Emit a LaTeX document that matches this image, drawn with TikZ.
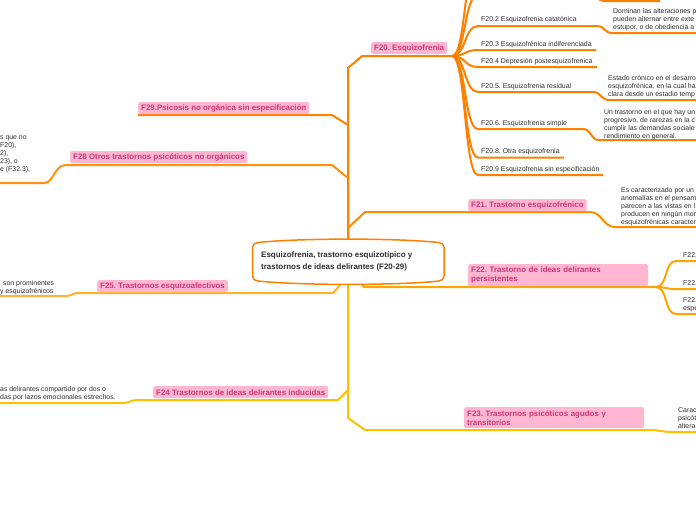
\documentclass[tikz,border=0pt]{standalone}
\usepackage{fontspec}
\setmainfont{Liberation Sans}
\frenchspacing
\definecolor{cA}{RGB}{255,128,0}
\definecolor{cB}{RGB}{255,140,0}
\definecolor{cC}{RGB}{255,165,0}
\definecolor{cD}{RGB}{255,192,0}
\definecolor{cE}{RGB}{255,178,45}
\definecolor{cF}{RGB}{255,145,15}
\definecolor{pinkfill}{RGB}{255,182,208}
\definecolor{pinktext}{RGB}{204,55,120}
\definecolor{txt}{RGB}{45,45,45}
\tikzset{
  br/.style={line width=2pt, line join=round},
  lbl/.style={fill=pinkfill, rounded corners=1.5pt, text=pinktext,
    font=\fontsize{7.9}{9}\selectfont\bfseries, inner xsep=3pt, inner ysep=0pt,
    minimum height=12pt, anchor=north west, align=left},
  subitem/.style={font=\fontsize{6.95}{8}\selectfont, text=txt, anchor=base west, inner sep=0pt},
  desc/.style={font=\fontsize{6.9}{8}\selectfont, text=txt, anchor=north west, align=left, inner sep=0pt},
}
\begin{document}
\begin{tikzpicture}[x=1pt,y=-1pt]
\useasboundingbox (0,0) rectangle (696,520);
\clip (0,0) rectangle (696,520);

% central node
\node[minimum width=192pt, minimum height=44pt, inner sep=0pt] (root) at (348.3,261.5) {};
\coordinate (rt) at (348,240);
\coordinate (rb) at (348,283);

% ---------- upper branches ----------
% F29
\coordinate (j29a) at (348,125); \coordinate (j29b) at (332,115); \coordinate (e29) at (138,115);
\draw[br, cA] (rt) -- (j29a) -- (j29b) -- (e29);
\node[lbl] (f29) at (138,102) {F29.Psicosis no orgánica sin especificación};

% F28
\coordinate (j28a) at (348,178); \coordinate (j28b) at (332,165); \coordinate (j28c) at (66,165);
\coordinate (j28d) at (44,183); \coordinate (e28) at (-5,183);
\draw[br, cF] (rt) -- (j28a) -- (j28b) -- (j28c) .. controls +(-12,0) and +(10,0) .. (j28d) -- (e28);
\node[lbl] (f28) at (70,151) {F28 Otros trastornos psicóticos no orgánicos};
\node[desc] (d28) at (0,135.5) {s que no\\F20),\\2),\\23), o\\e (F32.3),};

% F21
\coordinate (j21a) at (348,228); \coordinate (j21b) at (365,212); \coordinate (j21c) at (590,212);
\coordinate (j21d) at (615,227); \coordinate (e21) at (700,227);
\draw[br, cB] (rt) -- (j21a) -- (j21b) -- (j21c) .. controls +(12,0) and +(-12,0) .. (j21d) -- (e21);
\node[lbl] (f21) at (468,199) {F21. Trastorno esquizofrénico};
\node[desc] (d21) at (621,187) {Es caracterizado por un\\anomalías en el pensam\\parecen a las vistas en l\\producen en ningún mom\\esquizofrénicas caracter};

% F20
\coordinate (j20a) at (348,68); \coordinate (j20b) at (362,56); \coordinate (r20) at (452,56);
\draw[br, cA] (rt) -- (j20a) -- (j20b) -- (r20);
\node[lbl] (f20) at (371,42) {F20. Esquizofrenia};

% F20 children
\coordinate (s200) at (478,-40); \coordinate (e200) at (600,-40);
\draw[br, cA] (r20) .. controls +(14,0) and +(-14,0) .. (s200) -- (e200);
\coordinate (s201) at (478,-5); \coordinate (m201) at (590,-5); \coordinate (n201) at (605,1); \coordinate (e201) at (660,1);
\draw[br, cA] (r20) .. controls +(14,0) and +(-14,0) .. (s201) -- (m201) .. controls +(8,0) and +(-8,0) .. (n201) -- (e201);

\coordinate (s202) at (478,26); \coordinate (m202) at (597,26); \coordinate (n202) at (612,33); \coordinate (e202) at (700,33);
\draw[br, cA] (r20) .. controls +(14,0) and +(-14,0) .. (s202) -- (m202) .. controls +(8,0) and +(-8,0) .. (n202) -- (e202);
\node[subitem] (t202) at (481,21) {F20.2 Esquizofrenia catatónica};
\node[desc] (d202) at (613,8) {Dominan las alteraciones p\\pueden alternar entre exte\\estupor, o de obediencia a};

\coordinate (s203) at (478,50); \coordinate (e203) at (596,50);
\draw[br, cA] (r20) .. controls +(14,0) and +(-14,0) .. (s203) -- (e203);
\node[subitem] (t203) at (481,46) {F20.3 Esquizofrénica indiferenciada};

\coordinate (s204) at (478,67); \coordinate (e204) at (597,67);
\draw[br, cA] (r20) .. controls +(14,0) and +(-14,0) .. (s204) -- (e204);
\node[subitem] (t204) at (481,63.5) {F20.4 Depresión postesquizofrenica};

\coordinate (s205) at (478,92); \coordinate (m205) at (593,92); \coordinate (n205) at (609,100); \coordinate (e205) at (700,100);
\draw[br, cA] (r20) .. controls +(14,0) and +(-14,0) .. (s205) -- (m205) .. controls +(8,0) and +(-8,0) .. (n205) -- (e205);
\node[subitem] (t205) at (481,88) {F20.5. Esquizofrenia residual};
\node[desc] (d205) at (608,75) {Estado crónico en el desarro\\esquizofrénica, en la cual ha\\clara desde un estadio temp};

\coordinate (s206) at (478,129); \coordinate (m206) at (583,129); \coordinate (n206) at (599,140); \coordinate (e206) at (700,140);
\draw[br, cA] (r20) .. controls +(14,0) and +(-14,0) .. (s206) -- (m206) .. controls +(9,0) and +(-9,0) .. (n206) -- (e206);
\node[subitem] (t206) at (481,125) {F20.6. Esquizofrenia simple};
\node[desc] (d206) at (604,109) {Un trastorno en el que hay un\\progresivo, de rarezas en la c\\cumplir las demandas sociale\\rendimiento en general.};

\coordinate (s208) at (478,157.5); \coordinate (e208) at (564,157.5);
\draw[br, cA] (r20) .. controls +(14,0) and +(-14,0) .. (s208) -- (e208);
\node[subitem] (t208) at (481,153.5) {F20.8. Otra esquizofrenia};

\coordinate (s209) at (478,175); \coordinate (e209) at (603,175);
\draw[br, cA] (r20) .. controls +(14,0) and +(-14,0) .. (s209) -- (e209);
\node[subitem] (t209) at (481,171) {F20.9 Esquizofrenia sin especificación};

% ---------- lower branches ----------
% F23
\coordinate (j23a) at (348,418); \coordinate (j23b) at (365,430); \coordinate (j23c) at (650,430);
\coordinate (j23d) at (672,432); \coordinate (e23) at (700,432);
\draw[br, cD] (rb) -- (j23a) -- (j23b) -- (j23c) .. controls +(10,0) and +(-10,0) .. (j23d) -- (e23);
\node[lbl, text width=174pt, minimum height=21pt] (f23) at (464,407) {F23. Trastornos psicóticos agudos y\\transitorios};
\node[desc] (d23) at (678,407) {Carac\\psicót\\altera};

% F24
\coordinate (j24a) at (348,390); \coordinate (j24b) at (338,400); \coordinate (j24c) at (137,400);
\coordinate (j24d) at (123,403); \coordinate (e24) at (-5,403);
\draw[br, cD] (rb) -- (j24a) -- (j24b) -- (j24c) .. controls +(-6,0) and +(6,0) .. (j24d) -- (e24);
\node[lbl] (f24) at (153,386) {F24 Trastornos de ideas delirantes inducidas};
\node[desc] (d24) at (0,386) {as delirantes compartido por dos o\\das por lazos emocionales estrechos.};

% F25
\coordinate (j25s) at (342,283); \coordinate (j25a) at (333,293); \coordinate (j25b) at (78,293);
\coordinate (j25c) at (66,296); \coordinate (e25) at (-5,296);
\draw[br, cE] (j25s) -- (j25a) -- (j25b) .. controls +(-5,0) and +(5,0) .. (j25c) -- (e25);
\node[lbl] (f25) at (97,280) {F25. Trastornos esquizoafectivos};
\node[desc] (d25) at (0,280) {\hspace{3pt}son prominentes\\y esquizofrénicos};

% F22
\coordinate (j22s) at (361,283); \coordinate (j22a) at (364,287); \coordinate (r22) at (656,287);
\draw[br, cC] (j22s) -- (j22a) -- (r22);
\node[lbl, text width=174pt, minimum height=22pt] (f22) at (468,264) {F22. Trastorno de ideas delirantes\\persistentes};
\coordinate (s221) at (676,261); \coordinate (e221) at (700,261);
\coordinate (s222) at (676,289); \coordinate (e222) at (700,289);
\coordinate (s223) at (676,314); \coordinate (e223) at (700,314);
\draw[br, cC] (r22) .. controls +(12,0) and +(-12,0) .. (s221) -- (e221);
\draw[br, cC] (r22) .. controls +(12,0) and +(-12,0) .. (s222) -- (e222);
\draw[br, cC] (r22) .. controls +(12,0) and +(-12,0) .. (s223) -- (e223);
\node[subitem] (t221) at (683,257.5) {F22.};
\node[subitem] (t222) at (683,285.5) {F22.};
\node[desc] (t223) at (683,297.5) {F22.\\espe};

% central box outline and text
\draw[cA, line width=1.5pt, fill=white]
  (258,242.5) .. controls (300,238) and (397,238) .. (439,242.5)
  to[out=0,in=90] (444,247.5) -- (444,276)
  to[out=-90,in=0] (439,281) .. controls (397,285.5) and (300,285.5) .. (258,281)
  to[out=180,in=-90] (252.5,276) -- (252.5,247.5) to[out=90,in=180] cycle;
\node[font=\fontsize{7.95}{12}\selectfont\bfseries, text=txt, align=left, anchor=north west, inner sep=0pt] (rtext) at (261,251)
  {Esquizofrenia, trastorno esquizotípico y\\trastornos de ideas delirantes (F20-29)};
\end{tikzpicture}
\end{document}
